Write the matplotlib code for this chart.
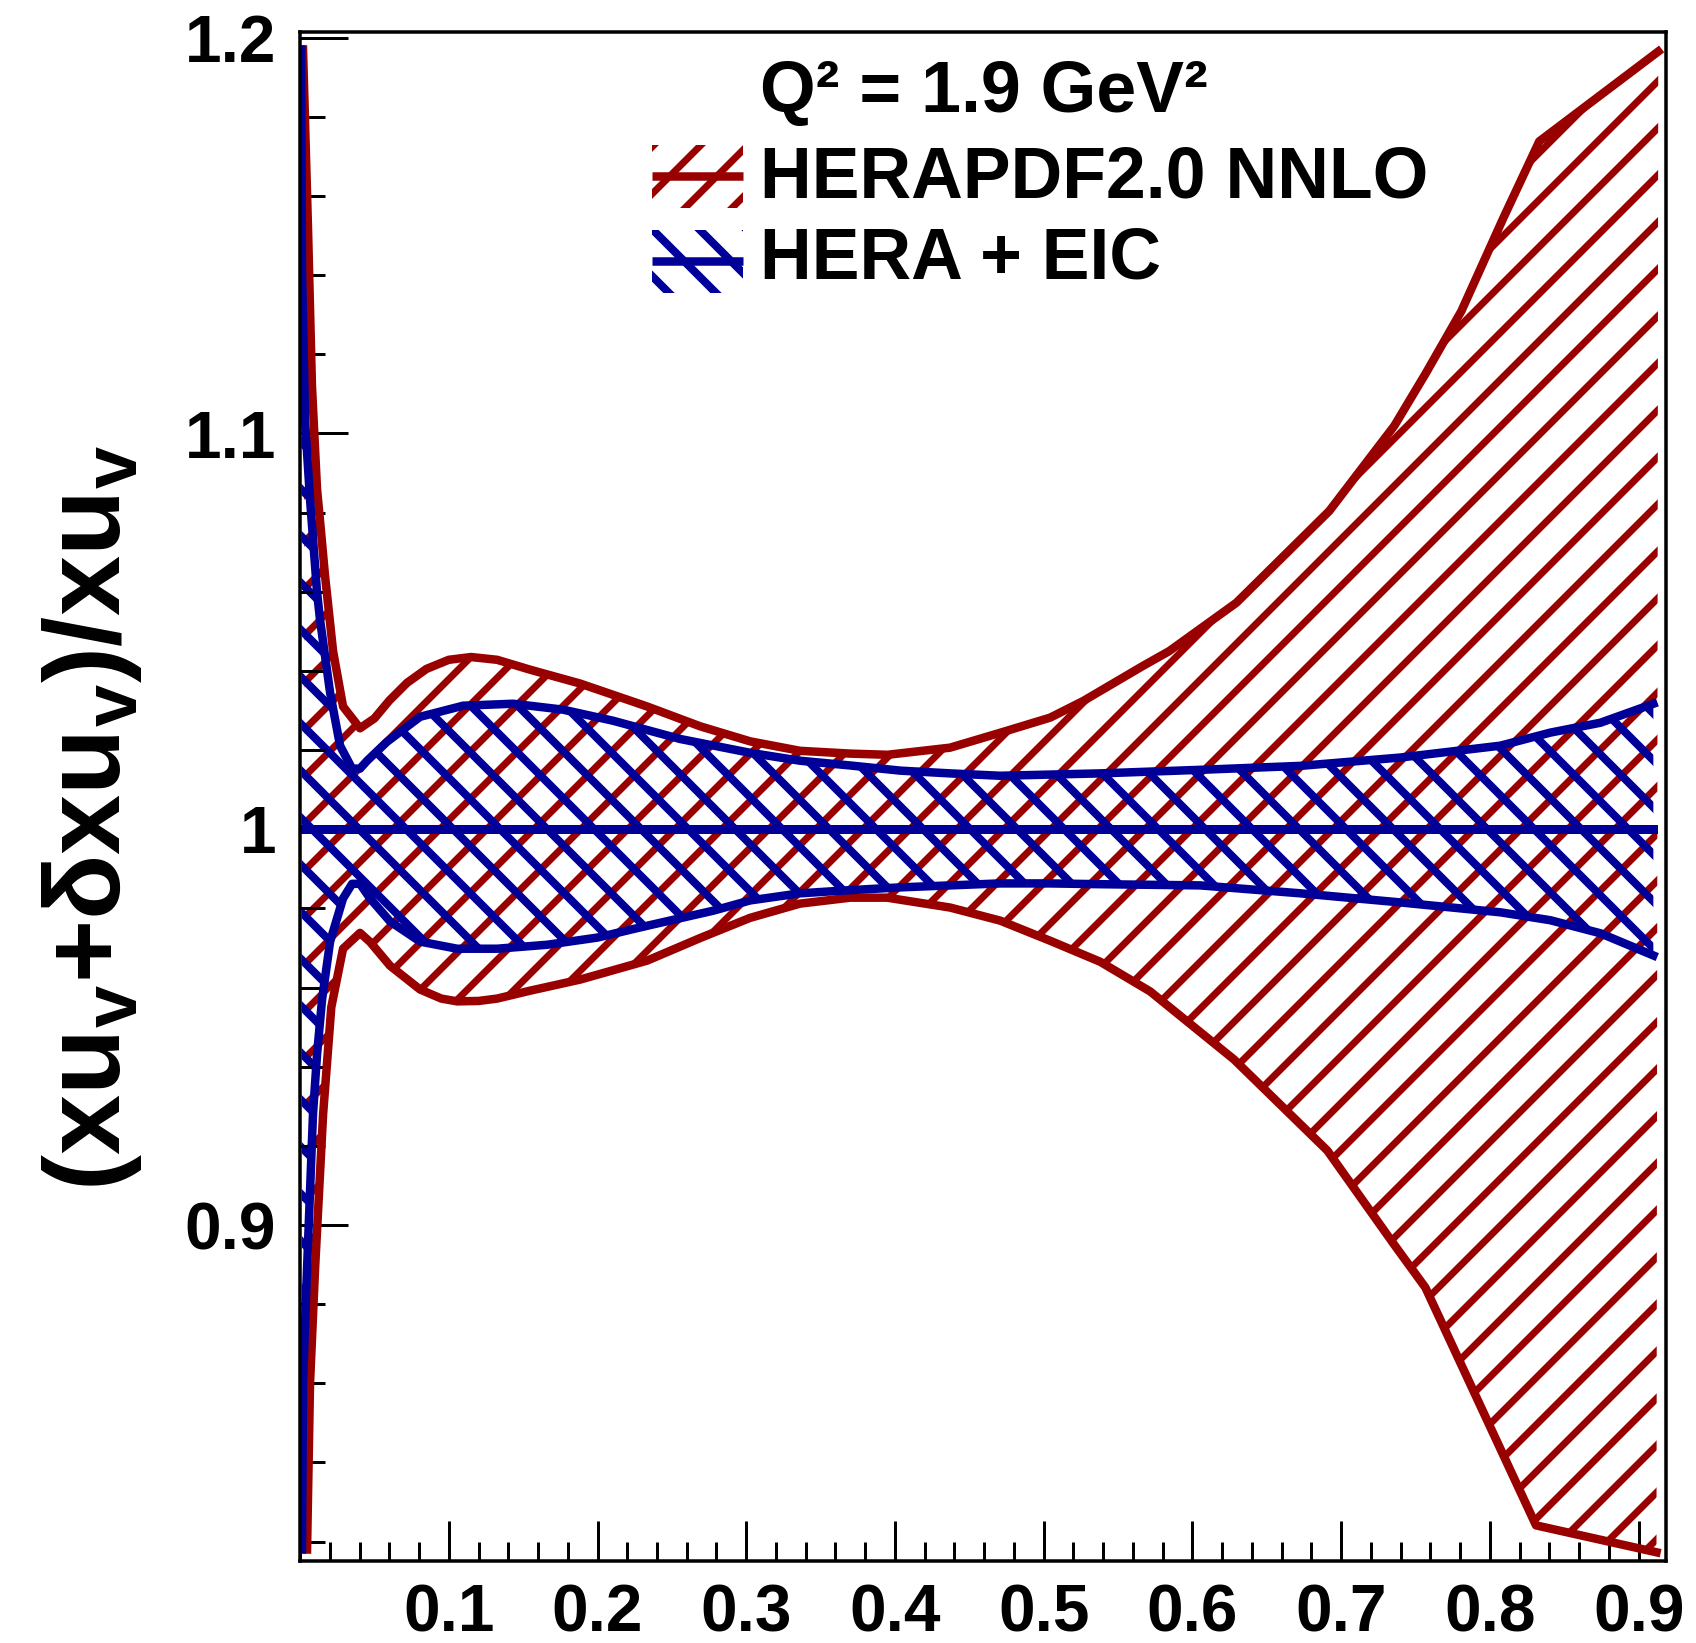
import numpy as np
import matplotlib
matplotlib.use("Agg")
import matplotlib.pyplot as plt
from matplotlib.patches import Rectangle
from matplotlib.ticker import FixedLocator, FixedFormatter, MultipleLocator

# HERAPDF2.0 NNLO band, upper and lower edge
hera_up_x = [0.002, 0.0054, 0.008, 0.0114, 0.0134, 0.0168, 0.0222, 0.0289, 0.0403,
             0.05, 0.06, 0.072, 0.085, 0.1, 0.115, 0.1325, 0.1547, 0.1883, 0.2334, 0.269,
             0.3026, 0.3362, 0.37, 0.395, 0.437, 0.4755, 0.5044, 0.5266, 0.5669,
             0.5844, 0.6295, 0.692, 0.7357, 0.7566, 0.7808, 0.809, 0.8332, 0.9132]
hera_up_y = [1.197, 1.151, 1.112, 1.086, 1.078, 1.064, 1.045, 1.031, 1.0255,
             1.028, 1.0325, 1.037, 1.0405, 1.0428, 1.0435, 1.0428, 1.0403, 1.0368, 1.031, 1.026,
             1.0222, 1.0198, 1.0191, 1.0188, 1.0206, 1.0249, 1.0282, 1.0324, 1.0413,
             1.045, 1.0572, 1.0804, 1.1019, 1.115, 1.1309, 1.1544, 1.1738, 1.1965]
hera_dn_x = [0.0047, 0.0067, 0.0101, 0.0155, 0.021, 0.0289, 0.0403, 0.0471, 0.0605,
             0.0807, 0.095, 0.1056, 0.12, 0.1325, 0.1547, 0.1883, 0.2334, 0.269, 0.3026, 0.3362,
             0.3699, 0.3948, 0.4371, 0.4707, 0.5044, 0.538, 0.5716, 0.628, 0.6907,
             0.7357, 0.7566, 0.831, 0.912]
hera_dn_y = [0.818, 0.860, 0.889, 0.928, 0.955, 0.9698, 0.9738, 0.9715, 0.9655,
             0.9595, 0.9572, 0.9565, 0.9566, 0.9572, 0.9592, 0.9620, 0.9668, 0.9725, 0.9776, 0.9812,
             0.9827, 0.9827, 0.9802, 0.9769, 0.9718, 0.9665, 0.9590, 0.9418, 0.9188,
             0.8950, 0.8842, 0.8241, 0.8173]

# HERA + EIC band, upper and lower edge
eic_up_x = [0.0007, 0.0013, 0.0034, 0.0067, 0.0114, 0.0134, 0.0202, 0.0269, 0.035,
            0.0403, 0.0451, 0.0585, 0.0807, 0.1096, 0.1432, 0.1769, 0.2105, 0.2555,
            0.3026, 0.3362, 0.3699, 0.4035, 0.4371, 0.4707, 0.5044, 0.538, 0.6053,
            0.6725, 0.7397, 0.807, 0.8406, 0.8743, 0.9099]
eic_up_y = [1.197, 1.1415, 1.1029, 1.0834, 1.060, 1.053, 1.0345, 1.0211, 1.0153,
            1.0153, 1.0173, 1.0221, 1.0284, 1.0312, 1.0317, 1.0302, 1.0274, 1.0228,
            1.0193, 1.0173, 1.0161, 1.0148, 1.0141, 1.0135, 1.0138, 1.0141, 1.0150,
            1.0160, 1.0181, 1.0211, 1.0244, 1.0269, 1.0317]
eic_dn_x = [0.0013, 0.002, 0.0047, 0.0087, 0.0114, 0.0148, 0.0202, 0.0289, 0.035,
            0.0403, 0.0471, 0.0605, 0.0807, 0.1056, 0.1325, 0.1661, 0.1997, 0.2334,
            0.2777, 0.3026, 0.3362, 0.3699, 0.4035, 0.4371, 0.4707, 0.5044, 0.538,
            0.6053, 0.6725, 0.7397, 0.807, 0.8406, 0.8743, 0.9099]
eic_dn_y = [0.818, 0.860, 0.889, 0.928, 0.943, 0.957, 0.9716, 0.9825, 0.9862,
            0.9862, 0.9825, 0.9767, 0.9716, 0.9698, 0.9698, 0.9708, 0.9726, 0.9756,
            0.9794, 0.9820, 0.9838, 0.9846, 0.9853, 0.9858, 0.9863, 0.9863, 0.9861,
            0.9858, 0.9838, 0.9815, 0.9790, 0.9770, 0.9737, 0.9681]

# central value of the ratio
central_x = [0.0007, 0.9099]
central_y = [1.0, 1.0]

x_ticks = [0.1, 0.2, 0.3, 0.4, 0.5, 0.6, 0.7, 0.8, 0.9]
x_labels = ["0.1", "0.2", "0.3", "0.4", "0.5", "0.6", "0.7", "0.8", "0.9"]
y_ticks = [0.9, 1.0, 1.1, 1.2]
y_labels = ["0.9", "1", "1.1", "1.2"]

legend_labels = ["HERAPDF2.0 NNLO", "HERA + EIC"]
header = "Q² = 1.9 GeV²"

RED = "#990000"
BLUE = "#000099"
DPI = 282
PT = 72.0 / DPI    # one pixel in points

plt.rcParams["font.family"] = ["Liberation Sans", "DejaVu Sans"]
plt.rcParams["font.weight"] = "bold"
plt.rcParams["mathtext.fontset"] = "custom"
plt.rcParams["mathtext.rm"] = "Liberation Sans:bold"
plt.rcParams["mathtext.it"] = "Liberation Sans:bold"
plt.rcParams["mathtext.bf"] = "Liberation Sans:bold"
plt.rcParams["hatch.linewidth"] = 7 * PT


def hatch_lw(patch, px):
    if hasattr(patch, "set_hatch_linewidth"):
        patch.set_hatch_linewidth(px * PT)


fig = plt.figure(figsize=(1696.3 / DPI, 1643.3 / DPI), dpi=DPI)
ax = fig.add_axes([300 / 1696, 1 - 1561 / 1643, 1366 / 1696, 1529 / 1643])

lw = 8.5 * PT

# HERAPDF band
red_fill = ax.fill(np.r_[hera_up_x, hera_dn_x[::-1]], np.r_[hera_up_y, hera_dn_y[::-1]],
                   facecolor="none", edgecolor=RED, hatch="//", linewidth=0)
hatch_lw(red_fill[0], 7)
ax.plot(hera_up_x, hera_up_y, color=RED, lw=lw)
ax.plot(hera_dn_x, hera_dn_y, color=RED, lw=lw)

# HERA + EIC band
blue_fill = ax.fill(np.r_[eic_up_x, eic_dn_x[::-1]], np.r_[eic_up_y, eic_dn_y[::-1]],
                    facecolor="none", edgecolor=BLUE, hatch="\\\\", linewidth=0)
hatch_lw(blue_fill[0], 8)
ax.plot(eic_up_x, eic_up_y, color=BLUE, lw=lw)
ax.plot(eic_dn_x, eic_dn_y, color=BLUE, lw=lw)
ax.plot(central_x, central_y, color=BLUE, lw=9 * PT)

ax.set_xlim(0, 0.9186)
ax.set_ylim(0.8151, 1.2015)

ax.xaxis.set_major_locator(FixedLocator(x_ticks))
ax.xaxis.set_major_formatter(FixedFormatter(x_labels))
ax.xaxis.set_minor_locator(MultipleLocator(0.02))
ax.yaxis.set_major_locator(FixedLocator(y_ticks))
ax.yaxis.set_major_formatter(FixedFormatter(y_labels))
ax.yaxis.set_minor_locator(MultipleLocator(0.02))

ax.tick_params(axis="both", which="both", direction="in", width=3 * PT,
               color="black", top=False, right=False, labelsize=16.8)
ax.tick_params(axis="x", which="major", length=40 * PT, pad=22 * PT)
ax.tick_params(axis="x", which="minor", length=19 * PT)
ax.tick_params(axis="y", which="major", length=48 * PT, pad=24 * PT)
ax.tick_params(axis="y", which="minor", length=25 * PT)
for sp in ax.spines.values():
    sp.set_linewidth(3.5 * PT)

fig.text(92 / 1696, 1 - 818 / 1643, r"(xu$_{v}$+δxu$_{v}$)/xu$_{v}$",
         rotation=90, ha="center", va="center", fontsize=27.6)

# legend, drawn by hand to keep the ROOT look
ax.text(0.3367, 0.948, header, transform=ax.transAxes, fontsize=18.3, va="baseline")
key_rows = [0.8849, 0.8293]
text_rows = [0.8921, 0.8385]
for lab, col, hat, y0, yt, hw in zip(legend_labels, [RED, BLUE], ["//", "\\\\"],
                                     key_rows, text_rows, [7, 8]):
    key = Rectangle((0.2577, y0), 0.0666, 0.0412, transform=ax.transAxes,
                    facecolor="none", edgecolor=col, hatch=hat, linewidth=0,
                    clip_on=False)
    hatch_lw(key, hw)
    ax.add_patch(key)
    ax.plot([0.2577, 0.2577 + 0.0666], [y0 + 0.0206, y0 + 0.0206], color=col, lw=lw,
            transform=ax.transAxes, clip_on=False, solid_capstyle="butt")
    ax.text(0.3367, yt, lab, transform=ax.transAxes, fontsize=18.3, va="baseline")

fig.savefig("out.png", dpi=DPI)
